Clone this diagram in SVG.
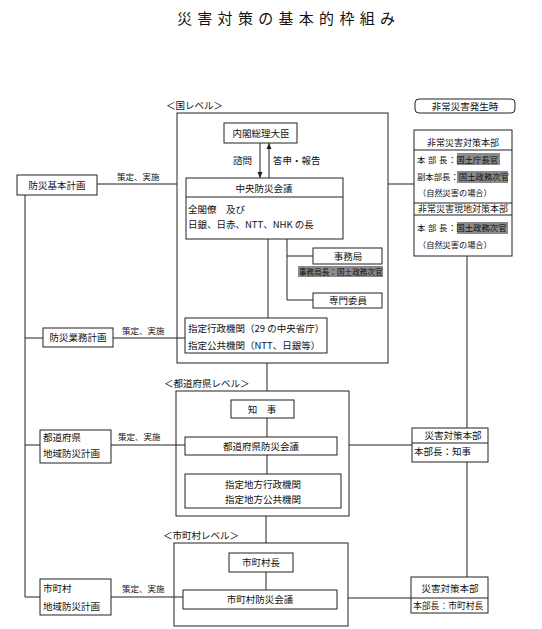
<svg xmlns="http://www.w3.org/2000/svg" width="542" height="629" viewBox="0 0 542 629">
<style>
.box{fill:#fff;stroke:#222;stroke-width:1}
.ln{stroke:#222;stroke-width:1;fill:none}
.hl{fill:#8a8a8a}
text{font-family:"Noto Sans CJK JP","Noto Sans CJK SC",sans-serif;font-size:9.5px;fill:#111}
.c{text-anchor:middle}
.sm{font-size:8.5px}
.r{font-size:8.4px}
.title{font-size:15px;letter-spacing:5.3px}
</style>
<defs>
<marker id="ah" viewBox="0 0 6 6" refX="6" refY="3" markerWidth="6" markerHeight="6" orient="auto" markerUnits="userSpaceOnUse">
<path d="M0,0.5 L6,3 L0,5.5 Z" fill="#222"/>
</marker>
</defs>
<rect width="542" height="629" fill="#fff"/>
<text class="title" x="177" y="24">災害対策の基本的枠組み</text>

<g id="connectors">
<path class="ln" d="M25,195 V597 H40"/>
<path class="ln" d="M25,338 H43"/>
<path class="ln" d="M25,445 H40"/>
<path class="ln" d="M97,184 H177"/>
<path class="ln" d="M113,338 H185"/>
<path class="ln" d="M111,445 H185"/>
<path class="ln" d="M111,597 H183"/>
<path class="ln" d="M388,184 H414"/>
<path class="ln" d="M349,445 H412"/>
<path class="ln" d="M348,598 H411"/>
<path class="ln" d="M467,256 V428"/>
<path class="ln" d="M467,462 V577"/>
<path class="ln" d="M260,143 V178" marker-end="url(#ah)"/>
<path class="ln" d="M269,178 V143" marker-end="url(#ah)"/>
<path class="ln" d="M268,239 V318"/>
<path class="ln" d="M287,239 V300 H313"/>
<path class="ln" d="M287,256 H313"/>
<path class="ln" d="M267,363 V391"/>
<path class="ln" d="M267,418 V437"/>
<path class="ln" d="M267,455 V474"/>
<path class="ln" d="M266,516 V543"/>
<path class="ln" d="M266,572 V590"/>
<text class="sm" x="117" y="180">策定、実施</text>
<text class="sm" x="122" y="334">策定、実施</text>
<text class="sm" x="118" y="440">策定、実施</text>
<text class="sm" x="122" y="592">策定、実施</text>
<text x="233" y="164">諮問</text>
<text x="273" y="164">答申・報告</text>
</g>

<g id="national">
<text x="166" y="109">＜国レベル＞</text>
<rect class="box" x="177" y="113" width="211" height="250" style="fill:none"/>
</g>
<g id="pm">
<rect class="box" x="224" y="123" width="73" height="20"/>
<text class="c" x="261" y="137">内閣総理大臣</text>
</g>
<g id="central-council">
<rect class="box" x="186" y="178" width="157" height="61"/>
<line class="ln" x1="186" y1="197" x2="343" y2="197"/>
<text class="c" x="264" y="192">中央防災会議</text>
<text x="188" y="213">全閣僚　及び</text>
<text x="188" y="228">日銀、日赤、NTT、NHK の長</text>
</g>
<g id="secretariat">
<rect class="box" x="313" y="248" width="69" height="16"/>
<text class="c" x="348" y="260">事務局</text>
<rect class="hl" x="298" y="266" width="85" height="11"/>
<text x="299" y="275" style="font-size:7.6px">事務局長：国土政務次官</text>
</g>
<g id="experts">
<rect class="box" x="313" y="293" width="69" height="15"/>
<text class="c" x="348" y="304">専門委員</text>
</g>
<g id="designated">
<rect class="box" x="185" y="318" width="142" height="35"/>
<text x="188" y="332">指定行政機関（29 の中央省庁）</text>
<text x="188" y="349">指定公共機関（NTT、日銀等）</text>
</g>

<g id="basic-plan">
<rect class="box" x="17" y="175" width="80" height="20"/>
<text class="c" x="57" y="189">防災基本計画</text>
</g>
<g id="operation-plan">
<rect class="box" x="43" y="328" width="70" height="19"/>
<text class="c" x="78" y="341">防災業務計画</text>
</g>

<g id="emergency">
<rect class="box" x="415" y="99" width="100" height="14" rx="4"/>
<text class="c" x="465" y="110">非常災害発生時</text>
</g>
<g id="emergency-hq">
<rect class="box" x="414" y="130" width="98" height="126"/>
<line class="ln" x1="414" y1="150" x2="512" y2="150"/>
<line class="ln" x1="414" y1="203" x2="512" y2="203"/>
<line class="ln" x1="414" y1="215" x2="512" y2="215"/>
<rect class="hl" x="457" y="153" width="43" height="12"/>
<rect class="hl" x="457" y="171" width="51" height="12"/>
<rect class="hl" x="457" y="222" width="51" height="12"/>
<text class="c" x="463" y="146" style="font-size:9px">非常災害対策本部</text>
<text class="r" x="417" y="163"><tspan>本</tspan><tspan x="428">部</tspan><tspan x="439">長</tspan><tspan x="448">：国土庁長官</tspan></text>
<text class="r" x="417" y="180">副本部長：国土政務次官</text>
<text x="418" y="196" style="font-size:8.2px">（自然災害の場合）</text>
<text class="c" x="463" y="212" style="font-size:9px">非常災害現地対策本部</text>
<text class="r" x="417" y="231"><tspan>本</tspan><tspan x="428">部</tspan><tspan x="439">長</tspan><tspan x="448">：国土政務次官</tspan></text>
<text x="418" y="248" style="font-size:8.2px">（自然災害の場合）</text>
</g>

<g id="prefecture">
<text x="164" y="387">＜都道府県レベル＞</text>
<rect class="box" x="176" y="391" width="173" height="125" style="fill:none"/>
</g>
<g id="governor">
<rect class="box" x="231" y="400" width="63" height="18"/>
<text class="c" x="262" y="413">知　事</text>
</g>
<g id="pref-council">
<rect class="box" x="185" y="437" width="152" height="18"/>
<text class="c" x="261" y="450">都道府県防災会議</text>
</g>
<g id="local-designated">
<rect class="box" x="185" y="474" width="156" height="34"/>
<text class="c" x="263" y="488">指定地方行政機関</text>
<text class="c" x="263" y="503">指定地方公共機関</text>
</g>
<g id="pref-plan">
<rect class="box" x="40" y="430" width="71" height="33"/>
<text x="43" y="441">都道府県</text>
<text x="43" y="457">地域防災計画</text>
</g>
<g id="pref-hq">
<rect class="box" x="412" y="428" width="76" height="34"/>
<line class="ln" x1="412" y1="443" x2="488" y2="443"/>
<text class="c" x="453" y="439">災害対策本部</text>
<text x="414" y="455">本部長：知事</text>
</g>

<g id="municipal">
<text x="163" y="539">＜市町村レベル＞</text>
<rect class="box" x="174" y="543" width="174" height="83" style="fill:none"/>
</g>
<g id="mayor">
<rect class="box" x="229" y="553" width="64" height="19"/>
<text class="c" x="261" y="566">市町村長</text>
</g>
<g id="muni-council">
<rect class="box" x="183" y="590" width="154" height="19"/>
<text class="c" x="260" y="603">市町村防災会議</text>
</g>
<g id="muni-plan">
<rect class="box" x="40" y="579" width="71" height="36"/>
<text x="43" y="592">市町村</text>
<text x="43" y="610">地域防災計画</text>
</g>
<g id="muni-hq">
<rect class="box" x="411" y="577" width="77" height="36"/>
<line class="ln" x1="411" y1="598" x2="488" y2="598"/>
<text class="c" x="450" y="592">災害対策本部</text>
<text x="413" y="609" style="font-size:8.8px">本部長：市町村長</text>
</g>
</svg>
